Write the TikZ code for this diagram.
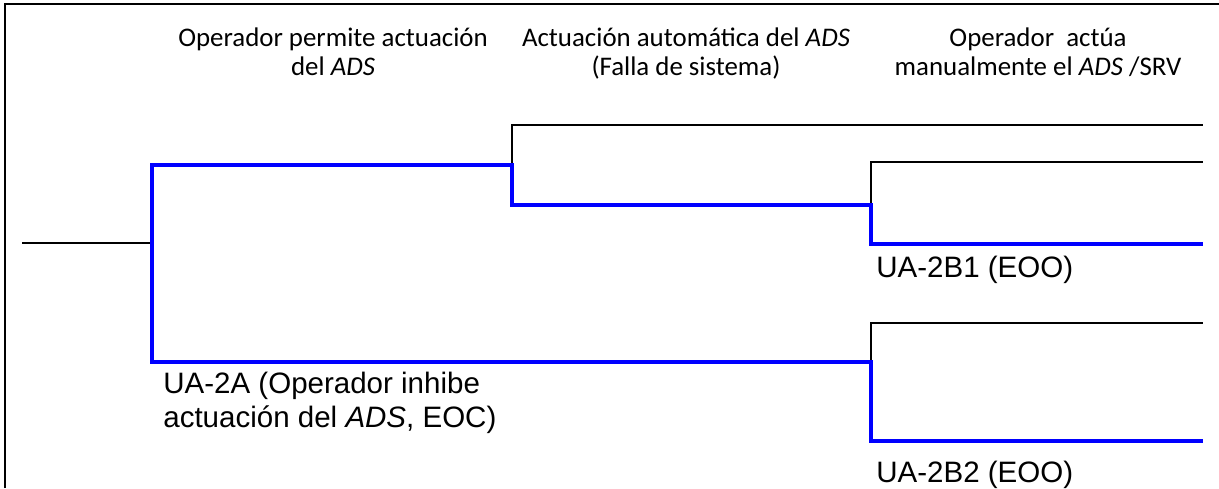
\documentclass[tikz,border=0pt]{standalone}
\usepackage{fontspec}
\setmainfont{Liberation Sans}
\newfontfamily\headfont{Carlito}
\begin{document}
\begin{tikzpicture}[x=0.02cm,y=-0.02cm,
  frame/.style={line width=1.1pt},
  branch/.style={line width=1.1pt},
  seqpath/.style={blue,line width=2.4pt},
  head/.style={anchor=base,align=center,inner sep=0pt,font=\headfont\fontsize{15.3}{16}\selectfont},
  endlbl/.style={anchor=north west,align=left,inner sep=0pt,font=\fontsize{16.8}{19.4}\selectfont}]
 \useasboundingbox (0,0) rectangle (1219,488);
 \draw[frame] (5,488) |- (1219,4);
 % column headers
 \node[head] (h1) at (333,75) {Operador permite actuación\\del \textit{ADS}};
 \node[head] (h2) at (686,75) {Actuación automática del \textit{ADS}\\(Falla de sistema)};
 \node[head] (h3) at (1038,75) {Operador~ actúa\\manualmente el \textit{ADS} /SRV};
 % branch points
 \coordinate (ini) at (22,243);
 \coordinate (b0) at (152,243);
 \coordinate (b1) at (512,165);
 \coordinate (b2) at (871,205);
 \coordinate (b3) at (871,362);
 \coordinate (e1) at (1203,125);
 \coordinate (e2) at (1203,162);
 \coordinate (e3) at (1203,244);
 \coordinate (e4) at (1203,323);
 \coordinate (e5) at (1203,441);
 % black branches
 \draw[branch] (ini) -- (b0);
 \draw[branch] (b1) |- (e1);
 \draw[branch] (b2) |- (e2);
 \draw[branch] (b3) |- (e4);
 % blue sequences
 \draw[seqpath] (b0) |- (b1) |- (b2) |- (e3);
 \draw[seqpath] (b0) |- (b3) |- (e5);
 % sequence labels
 \node[endlbl] (ua2a) at (163,372) {UA-2A (Operador inhibe\\actuación del \textit{ADS}, EOC)};
 \node[endlbl] (ua2b1) at (876,256) {UA-2B1 (EOO)};
 \node[endlbl] (ua2b2) at (876,461) {UA-2B2 (EOO)};
\end{tikzpicture}
\end{document}
